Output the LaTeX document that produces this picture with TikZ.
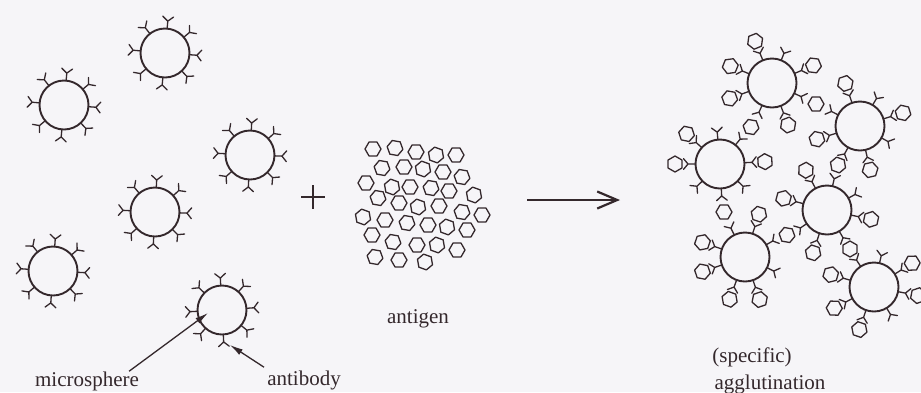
\documentclass[tikz,border=0pt]{standalone}
\usepackage{fontspec}
\setmainfont{Liberation Serif}
\usetikzlibrary{arrows.meta}
\definecolor{ink}{RGB}{52,40,44}
\definecolor{paper}{RGB}{246,245,248}

\tikzset{
  sphere/.style={circle, draw=ink, line width=1.9pt, minimum size=49pt, inner sep=0pt},
  abline/.style={draw=ink, line width=1.3pt, line cap=round, line join=round},
  hexline/.style={draw=ink, line width=1.3pt, line join=round},
  caption/.style={font=\fontsize{21}{24}\selectfont, text=ink, inner sep=0pt},
  pointer/.style={draw=ink, line width=1.3pt, -{Latex[length=13pt,width=6.5pt]}},
  bigarrow/.style={draw=ink, line width=2.2pt, -{Straight Barb[length=20pt,width=17pt]}},
  plusline/.style={draw=ink, line width=1.9pt},
}

% hexagon (antigen) centred at (#1,#2), first vertex at angle #3
\newcommand\hexat[3]{\draw[hexline] (#1,#2) +(#3:8) -- +(#3+60:8) -- +(#3+120:8)
  -- +(#3+180:8) -- +(#3+240:8) -- +(#3+300:8) -- cycle;}
% antibody on a microsphere centred at (#1,#2), pointing at angle #3;
% #4=1 adds a bound antigen in the fork
\newcommand\antib[4]{%
  \begin{scope}[shift={(#1,#2)}, rotate=#3]
    \draw[abline] (24.5,0) -- (32,0) -- ++(50:7) (32,0) -- ++(-50:7);
    \ifnum#4=1 \hexat{45}{0}{30}\fi
  \end{scope}}

\begin{document}
\begin{tikzpicture}[x=1pt, y=-1pt]
  \fill[paper] (0,0) rectangle (921,392);
  \useasboundingbox (0,0) rectangle (921,392);

  % ---- free microspheres coated with antibodies ----
  \foreach \n/\cx/\cy/\r in {m1/64/105/0, m2/165/53/0, m3/250/155/2,
                             m4/155/212/2, m5/53/271/1, m6/222/310/8} {
    \node[sphere] (\n) at (\cx,\cy) {};
    \foreach \a in {85,40,-4,-47,-95,-140,175,128}
      \antib{\cx}{\cy}{\a+\r}{0};
  }

  % ---- plus sign ----
  \draw[plusline] (301,197) -- (325,197) (313,185) -- (313,209);

  % ---- free antigen ----
  \foreach \x/\y/\a in {
      373/149/0, 395/148/10, 416/152/0, 436/155/20, 456/155/0,
      382/168/10, 404/167/0, 423/169/20, 443/172/0, 462/177/10,
      366/183/0, 392/187/20, 410/187/0, 431/188/10, 449/191/0, 474/195/20,
      378/198/10, 399/203/0, 418/207/20, 439/206/0, 462/212/10, 482/215/0,
      363/217/20, 385/220/0, 407/223/10, 428/225/0, 447/227/20, 467/230/0,
      372/235/0, 393/242/10, 417/245/0, 437/245/20, 457/250/0,
      375/257/10, 399/260/0, 425/262/20}
    \hexat{\x}{\y}{\a};

  % ---- reaction arrow ----
  \coordinate (rxS) at (527,200);
  \coordinate (rxE) at (620,200);
  \draw[bigarrow] (rxS) -- (rxE);

  % ---- agglutinated microspheres ----
  \node[sphere] (A) at (772,83) {};
  \node[sphere] (B) at (860,126) {};
  \node[sphere] (C) at (720,164) {};
  \node[sphere] (D) at (827,210) {};
  \node[sphere] (E) at (745,257) {};
  \node[sphere] (F) at (874,287) {};
  \foreach \a/\h in {112/1, 68/0, 23/1, -25/0, -69/1, -114/0, -160/1, 158/1}
    \antib{772}{83}{\a}{\h};
  \foreach \a/\h in {109/1, 59/0, 17/1, -29/0, -77/1, -119/0, -163/1, 153/0}
    \antib{860}{126}{\a}{\h};
  \foreach \a/\h in {95/0, 51/0, 3/1, -44/0, -87/0, -136/0, 180/1, 138/1}
    \antib{720}{164}{\a}{\h};
  \foreach \a/\h in {118/1, 77/0, 29/0, -12/1, -60/0, -108/1, -146/0, 165/1}
    \antib{827}{210}{\a}{\h};
  \foreach \a/\h in {116/0, 72/1, 30/0, -26/0, -71/1, -110/1, -161/1, 161/1}
    \antib{745}{257}{\a}{\h};
  \foreach \a/\h in {123/0, 77/0, 32/1, -11/1, -59/0, -109/1, -152/1, 164/1}
    \antib{874}{287}{\a}{\h};
  % antigens bridging two microspheres
  \foreach \x/\y/\a in {751/127/10, 816/104/0, 838/165/20, 724/212/0, 787/235/10, 850/249/30}
    \hexat{\x}{\y}{\a};

  % ---- labels ----
  \node[caption, anchor=base] (lms) at (87,386) {microsphere};
  \node[caption, anchor=base] (lab) at (304,385) {antibody};
  \node[caption, anchor=base] (lag) at (418,323) {antigen};
  \node[caption, anchor=base] (lsp) at (752,362) {(specific)};
  \node[caption, anchor=base] (lagg) at (770,389) {agglutination};

  \coordinate (mstip) at (208,313);
  \coordinate (abtip) at (230,345);
  \draw[pointer] ([xshift=-10pt]lms.north east) -- (mstip);
  \draw[pointer] ([xshift=-3pt,yshift=3pt]lab.north west) -- (abtip);
\end{tikzpicture}
\end{document}
